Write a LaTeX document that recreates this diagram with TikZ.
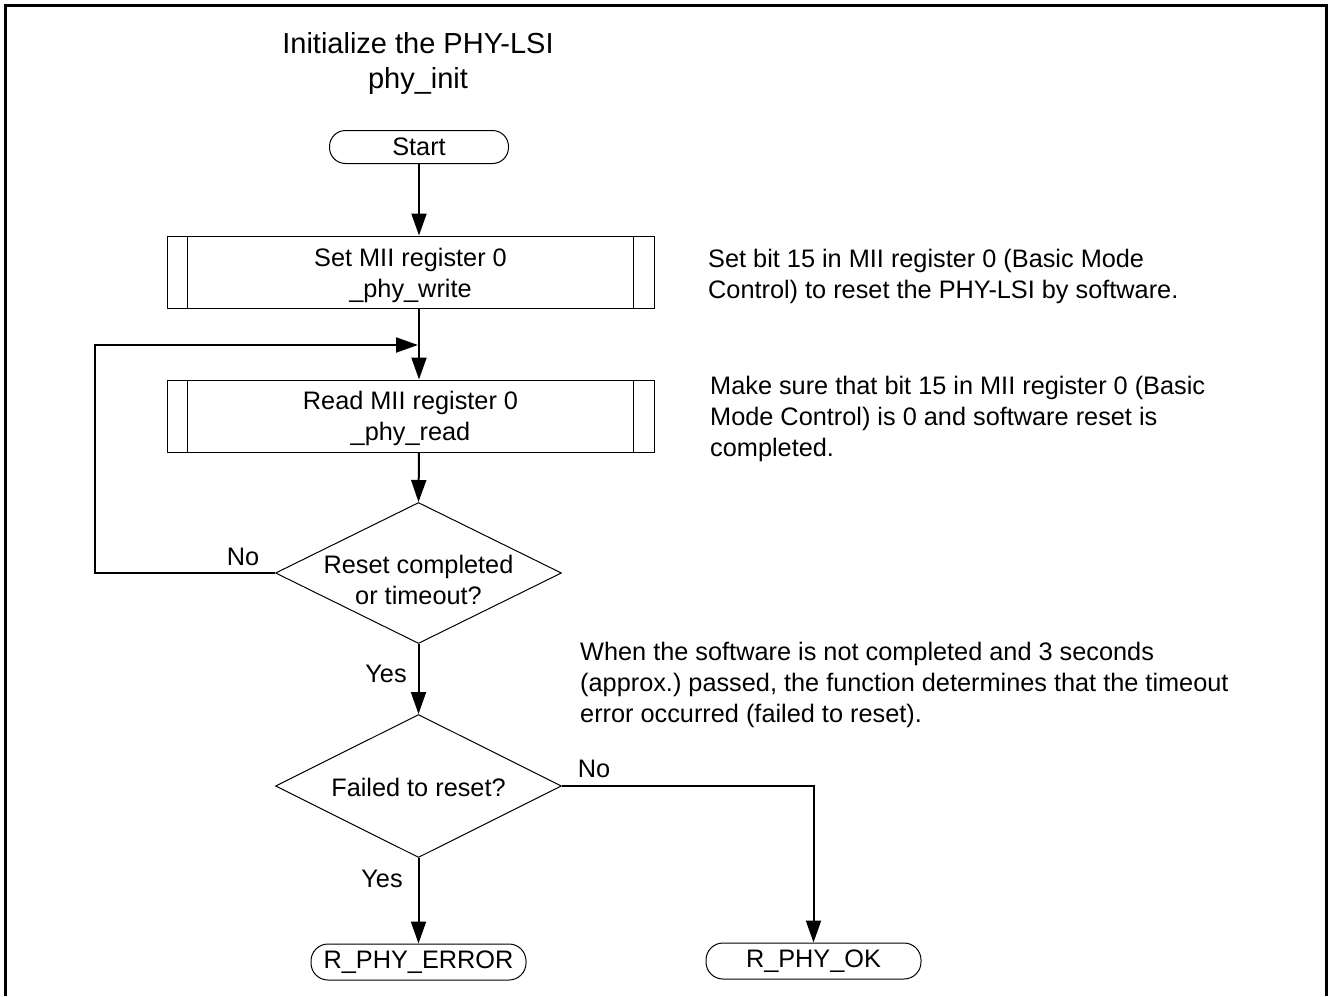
\documentclass[tikz,border=0pt]{standalone}
\usepackage{fontspec}
\setmainfont{Liberation Sans}
\usetikzlibrary{shapes.geometric,arrows.meta}
\frenchspacing
\tikzset{
  txt/.style={font=\fontsize{25.3}{31}\selectfont, inner sep=0pt},
  term/.style={txt, draw, line width=1pt, rectangle, rounded corners=17pt,
               minimum width=215pt, minimum height=36pt},
  proc/.style={draw, line width=1pt, rectangle,
               minimum width=487pt, minimum height=72pt},
  decide/.style={draw, line width=1pt, diamond, inner sep=0pt,
                 minimum width=286pt, minimum height=141pt},
  note/.style={txt, align=left, anchor=west},
  conn/.style={line width=2pt, -{Triangle[length=22pt,width=15pt]}},
  heading/.style={font=\fontsize{29}{35}\selectfont, inner sep=0pt, anchor=base}
}
\newcommand{\sidebars}[1]{%
  \draw[line width=1pt] ([xshift=21pt]#1.north west) -- ([xshift=21pt]#1.south west);
  \draw[line width=1pt] ([xshift=-21pt]#1.north east) -- ([xshift=-21pt]#1.south east);}
\begin{document}
\begin{tikzpicture}[x=1pt, y=-1pt]
  \useasboundingbox (0,0) rectangle (1328,996);
  % outer frame (open at the bottom)
  \draw[line width=3pt] (5,996) -- (5,5) -- (1326,5) -- (1326,996);

  % heading
  \node[heading] (title) at (418,53) {Initialize the PHY-LSI};
  \node[heading] (fname) at (418,88) {phy\_init};

  % flow elements
  \node[term, minimum width=179pt, minimum height=33pt, rounded corners=16pt] (start) at (419,147) {Start};
  \node[proc] (setreg) at (410.5,272) {};
  \sidebars{setreg}
  \node[txt, align=center] (settxt) at (410.5,275) {Set MII register 0\\\_phy\_write};
  \node[proc] (readreg) at (410.5,416) {};
  \sidebars{readreg}
  \node[txt, align=center] (readtxt) at (410.5,418) {Read MII register 0\\\_phy\_read};
  \node[decide] (d1) at (418.5,573) {};
  \node[txt, align=center] (d1txt) at (418.5,580) {Reset completed\\or timeout?};
  \node[decide, minimum height=143pt] (d2) at (418.5,786) {};
  \node[txt] (d2txt) at (418.5,787) {Failed to reset?};
  \node[term] (err) at (418.5,962) {R\_PHY\_ERROR};
  \node[term] (ok) at (813.5,961) {R\_PHY\_OK};

  \coordinate (loopin) at (418,345);
  \coordinate (loopcorner) at (95,573);

  % connectors
  \draw[conn] (start.south) -- (start.south |- setreg.north);
  \draw[conn] (setreg.south -| start.south) -- (readreg.north -| start.south);
  \draw[conn] (d1.west) -- (loopcorner) |- (loopin);
  \draw[conn] (readreg.south -| start.south) -- (d1.north);
  \draw[conn] (d1.south) -- (d2.north);
  \draw[conn] (d2.south) -- (err.north);
  \draw[conn] (d2.east) -| (ok.north);

  % branch labels
  \node[txt] (no1) at (243,557) {No};
  \node[txt] (yes1) at (386,674) {Yes};
  \node[txt] (yes2) at (382,879) {Yes};
  \node[txt] (no2) at (594,769) {No};

  % annotations
  \node[note] (n1) at (708,276) {Set bit 15 in MII register 0 (Basic Mode\\Control) to reset the PHY-LSI by software.};
  \node[note] (n2) at (710,419) {Make sure that bit 15 in MII register 0 (Basic\\Mode Control) is 0 and software reset is\\completed.};
  \node[note] (n3) at (580,685) {When the software is not completed and 3 seconds\\(approx.) passed, the function determines that the timeout\\error occurred (failed to reset).};
\end{tikzpicture}
\end{document}
